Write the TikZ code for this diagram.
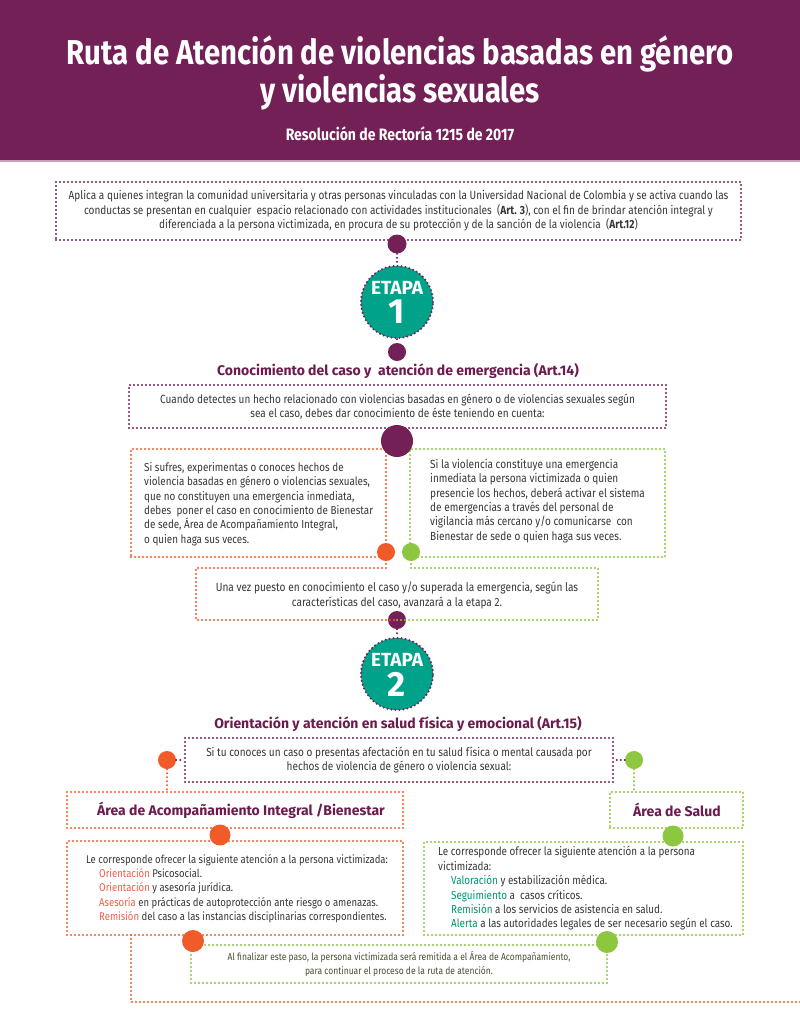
\documentclass[tikz,border=0pt]{standalone}
\usepackage{fontspec}
\setmainfont{Fira Sans}[FakeStretch=0.85]
\newfontfamily\headfam{Fira Sans}
\definecolor{upurple}{RGB}{115,32,87}
\definecolor{hpurple}{RGB}{107,27,78}
\definecolor{uteal}{RGB}{0,163,137}
\definecolor{uorange}{RGB}{241,90,41}
\definecolor{ugreen}{RGB}{141,198,63}
\definecolor{ugray}{RGB}{55,55,55}
\definecolor{okey}{RGB}{240,95,70}
\definecolor{gkey}{RGB}{0,150,110}
\definecolor{ftext}{RGB}{70,80,50}
\definecolor{bandline}{RGB}{200,160,185}
\tikzset{
  dline/.style={line width=2.3pt, dash pattern=on 0pt off 4pt, line cap=round},
  pline/.style={dline, draw=upurple},
  oline/.style={dline, draw=uorange},
  gline/.style={dline, draw=ugreen},
  bodyfont/.style={font=\fontsize{#1}{14.4}\selectfont},
  boxbase/.style={rectangle, inner sep=0pt, align=center, text=ugray, bodyfont=11.8},
  pbox/.style={boxbase, pline},
  obox/.style={boxbase, oline},
  gbox/.style={boxbase, gline},
  ltext/.style={anchor=west, align=left, inner sep=0pt, text=ugray, bodyfont=#1},
  blob/.style={circle, inner sep=0pt, minimum size=#1},
  pblob/.style={blob=#1, fill=upurple},
  oblob/.style={blob=#1, fill=uorange},
  gblob/.style={blob=#1, fill=ugreen},
  etapa/.style={circle, fill=uteal, pline, minimum size=72pt, inner sep=0pt},
  etext/.style={text=white, font=\headfam\bfseries\fontsize{#1}{#1}\selectfont, inner sep=0pt},
  head/.style={text=hpurple, font=\headfam\bfseries\fontsize{14}{16}\selectfont, inner sep=0pt},
  ttl/.style={text=white, font=\bfseries\fontsize{#1}{#1}\selectfont, inner sep=0pt, anchor=base},
}
\begin{document}
\begin{tikzpicture}[x=1pt,y=-1pt]
\useasboundingbox (0,0) rectangle (800,1033);
\fill[white] (0,0) rectangle (800,1033);
% header
\fill[upurple] (0,0) rectangle (800,160);
\draw[bandline, line width=2pt] (0,161) -- (800,161);
\node[ttl=34.5] (title1) at (400,64) {Ruta de Atención de violencias basadas en género};
\node[ttl=34.5] (title2) at (400,102) {y violencias sexuales};
\node[ttl=16.5] (subtitle) at (400,140) {Resolución de Rectoría 1215 de 2017};

% box 1
\node[pbox, minimum width=685pt, minimum height=58pt] (b1) at (398.5,211)
 {Aplica a quienes integran la comunidad universitaria y otras personas vinculadas con la Universidad Nacional de Colombia y se activa cuando las\\
  conductas se presentan en cualquier\ \ espacio relacionado con actividades institucionales\ \ (\textbf{Art. 3}), con el fin de brindar atención integral y\\
  diferenciada a la persona victimizada, en procura de su protección y de la sanción de la violencia\ \ (\textbf{Art.12})};

% etapa 1
\node[etapa] (e1) at (397,302) {};
\node[etext=19] (e1a) at (397,288) {ETAPA};
\node[etext=35] (e1b) at (397,312) {1};

\node[head] (h1) at (398,371) {Conocimiento del caso y\ \ atención de emergencia (Art.14)};

% box 2
\node[pbox, minimum width=537pt, minimum height=43pt] (b2) at (397.5,406.5)
 {Cuando detectes un hecho relacionado con violencias basadas en género o de violencias sexuales según\\
  sea el caso, debes dar conocimiento de éste teniendo en cuenta:};

% orange / green boxes
\node[obox, minimum width=255pt, minimum height=108pt] (bo) at (258.5,503) {};
\node[ltext=11.6] (to) at (144,504)
 {Si sufres, experimentas o conoces hechos de\\
  violencia basadas en género o violencias sexuales,\\
  que no constituyen una emergencia inmediata,\\
  debes\ \ poner el caso en conocimiento de Bienestar\\
  de sede, Área de Acompañamiento Integral,\\
  o quien haga sus veces.};
\node[gbox, minimum width=255pt, minimum height=108pt] (bg) at (537.5,503) {};
\node[ltext=11.8] (tg) at (430,501)
 {Si la violencia constituye una emergencia\\
  inmediata la persona victimizada o quien\\
  presencie los hechos, deberá activar el sistema\\
  de emergencias a través del personal de\\
  vigilancia más cercano y/o comunicarse\ \ con\\
  Bienestar de sede o quien haga sus veces.};

% box 3 frame
\coordinate (b3tl) at (196,568);
\coordinate (b3tr) at (598,568);
\coordinate (b3bl) at (196,620);
\coordinate (b3br) at (598,620);
\node[pblob=18pt] (d4) at (397,620) {};
\node[oblob=18pt] (od1) at (386,552) {};
\node[gblob=18pt] (gd1) at (411,552) {};
\draw[oline] (od1.center) -- (od1.center |- b3tl) -- (b3tl) -- (b3bl) -- (d4.center);
\draw[gline] (gd1.center) -- (gd1.center |- b3tr) -- (b3tr) -- (b3br) -- (d4.center);
\node[boxbase, bodyfont=11.9] (t3) at (397,595.5)
 {Una vez puesto en conocimiento el caso y/o superada la emergencia, según las\\
  características del caso, avanzará a la etapa 2.};

% etapa 2
\node[etapa] (e2) at (397,674) {};
\node[etext=19] (e2a) at (397,660) {ETAPA};
\node[etext=35] (e2b) at (397,684) {2};

\node[head] (h2) at (398,724) {Orientación y atención en salud física y emocional (Art.15)};

% box 4
\node[pbox, minimum width=428pt, minimum height=44pt] (b4) at (399,760)
 {Si tu conoces un caso o presentas afectación en tu salud física o mental causada por\\
  hechos de violencia de género o violencia sexual:};

% box 5 and 6
\node[obox, minimum width=336pt, minimum height=36pt] (b5) at (235,810) {};
\node[head] (t5) at (241,810) {Área de Acompañamiento Integral /Bienestar};
\node[obox, minimum width=336pt, minimum height=94pt] (b6) at (235,888) {};
\node[ltext=11.2] (t6) at (86,888.5)
 {Le corresponde ofrecer la siguiente atención a la persona victimizada:\\
  \hspace*{13pt}\textcolor{okey}{Orientación} Psicosocial.\\
  \hspace*{13pt}\textcolor{okey}{Orientación} y asesoría jurídica.\\
  \hspace*{13pt}\textcolor{okey}{Asesoría} en prácticas de autoprotección ante riesgo o amenazas.\\
  \hspace*{13pt}\textcolor{okey}{Remisión} del caso a las instancias disciplinarias correspondientes.};

% box 7 and 8
\node[gbox, minimum width=133pt, minimum height=36pt] (b7) at (676.5,810) {};
\node[head] (t7) at (677,810) {Área de Salud};
\node[gbox, minimum width=319pt, minimum height=93pt] (b8) at (583.5,888.5) {};
\node[ltext=11.6] (t8) at (438,888.5)
 {Le corresponde ofrecer la siguiente atención a la persona\\
  victimizada:\\
  \hspace*{13pt}\textcolor{gkey}{Valoración} y estabilización médica.\\
  \hspace*{13pt}\textcolor{gkey}{Seguimiento} a\ \ casos críticos.\\
  \hspace*{13pt}\textcolor{gkey}{Remisión} a los servicios de asistencia en salud.\\
  \hspace*{13pt}\textcolor{gkey}{Alerta} a las autoridades legales de ser necesario según el caso.};

% box 9
\node[gbox, text=ftext, bodyfont=10, minimum width=416pt, minimum height=38pt] (b9) at (399,964)
 {Al finalizar este paso, la persona victimizada será remitida a el Área de Acompañamiento,\\
  para continuar el proceso de la ruta de atención.};

% bottom orange route
\coordinate (c1) at (131,935);
\coordinate (c2) at (131,1002);
\coordinate (c3) at (800,1002);
\draw[oline] (c1) -- (c2) -- (c3);

% side dots of box 4
\node[oblob=18pt] (od2) at (167,760) {};
\node[gblob=18pt] (gd2) at (634,760) {};
\draw[pline] (od2) -- (b4.west |- od2);
\draw[pline] (gd2) -- (b4.east |- gd2);
\draw[oline] (od2) -- (od2 |- b5.north);
\draw[gline] (gd2) -- (gd2 |- b7.north);

% stage connectors
\node[pblob=19pt] (d1) at (397,244) {};
\node[pblob=18pt] (d2) at (397,352) {};
\node[pblob=32pt] (d3) at (397,441) {};
\draw[pline] (d1) -- (e1);
\draw[pline] (e1) -- (d2);
\draw[pline] (d4) -- (e2);

% dots of the lower boxes
\node[oblob=21pt] (od3) at (220,835) {};
\node[gblob=21pt] (gd3) at (673,836) {};
\node[oblob=22pt] (od4) at (193,941) {};
\node[gblob=22pt] (gd4) at (607,942) {};
\end{tikzpicture}
\end{document}
